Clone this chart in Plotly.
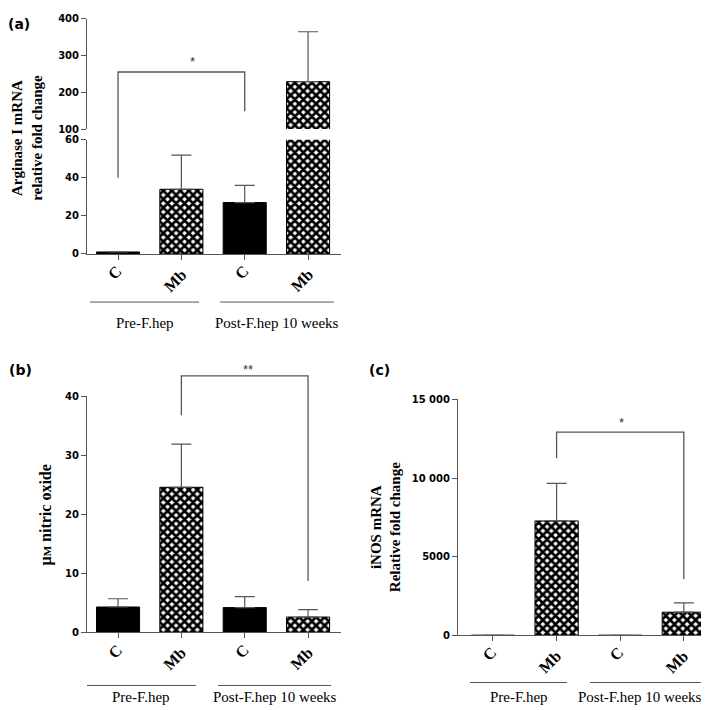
import plotly.graph_objects as go

# ---------------- data ----------------
categories = ["C", "Mb", "C", "Mb"]
positions = [0, 1, 2, 3]
groups = ["Pre-F.hep", "Post-F.hep 10 weeks"]

# (a) Arginase I mRNA relative fold change
arg_values = [1, 34, 27, 229]
arg_err = [0, 18, 9, 136]

# (b) µM nitric oxide
no_values = [4.3, 24.6, 4.2, 2.6]
no_err = [1.4, 7.3, 1.85, 1.25]

# (c) iNOS mRNA relative fold change
inos_values = [1, 7270, 1, 1470]
inos_err = [0, 2390, 0, 590]

a_low_ticks = [0, 20, 40, 60]
a_high_ticks = [100, 200, 300, 400]
b_ticks = [0, 10, 20, 30, 40]
c_ticks = [0, 5000, 10000, 15000]
c_ticktext = ["0", "5000", "10 000", "15 000"]

# ---------------- styling ----------------
W, H = 709, 710
AX = "#555555"
BAR_W = 0.68
pattern = dict(shape=["", "x", "", "x"], fgcolor="black", bgcolor="white",
               size=6, solidity=0.7, fillmode="replace")

def px_x(p):
    return p / W

def px_y(p):
    return 1 - p / H

def bars(vals, errs, xa, ya):
    return go.Bar(
        x=positions, y=vals, xaxis=xa, yaxis=ya, width=BAR_W,
        marker=dict(color="black", line=dict(color="black", width=1), pattern=pattern),
        error_y=dict(type="data", symmetric=False, array=errs, arrayminus=[0] * len(errs),
                     color=AX, thickness=1.2, width=10),
        showlegend=False, hoverinfo="skip",
    )

def bracket(xs, ys, xa, ya):
    return go.Scatter(x=xs, y=ys, xaxis=xa, yaxis=ya, mode="lines",
                      line=dict(color=AX, width=1.3), showlegend=False, hoverinfo="skip")

fig = go.Figure()
# (a) broken axis: lower and upper parts
fig.add_trace(bars(arg_values, arg_err, "x", "y"))
fig.add_trace(bars(arg_values, arg_err, "x", "y2"))
fig.add_trace(bracket([0, 0, 2, 2], [40, 95.7, 95.7, 75], "x", "y3"))
# (b)
fig.add_trace(bars(no_values, no_err, "x2", "y4"))
fig.add_trace(bracket([1, 1, 3, 3], [36.8, 43.5, 43.5, 8.7], "x2", "y5"))
# (c)
fig.add_trace(bars(inos_values, inos_err, "x3", "y6"))
fig.add_trace(bracket([1, 1, 3, 3], [11260, 12920, 12920, 3570], "x3", "y6"))

tick_font = dict(family="DejaVu Sans", size=10, color="black", weight="bold")
cat_font = dict(family="Liberation Serif", size=16, color="black", weight="bold")

def xaxis(dom, rng, anchor):
    return dict(domain=dom, range=rng, anchor=anchor, tickmode="array", tickvals=positions,
                showticklabels=False, ticks="outside", ticklen=5,
                tickcolor=AX, showline=True, linecolor=AX, linewidth=1,
                showgrid=False, zeroline=False, fixedrange=True)

def yaxis(dom, rng, anchor, tv, tt=None):
    d = dict(domain=dom, range=rng, anchor=anchor, tickmode="array", tickvals=tv,
             ticks="outside", ticklen=5, tickcolor=AX, showline=True, linecolor=AX,
             linewidth=1, showgrid=False, zeroline=False, tickfont=tick_font, fixedrange=True)
    if tt is not None:
        d["ticktext"] = tt
    return d

def hidden(dom, rng, anchor):
    return dict(domain=dom, range=rng, anchor=anchor, visible=False, fixedrange=True)

ab_xdom = [px_x(79), px_x(333)]
c_xdom = [px_x(450), px_x(707)]

fig.update_layout(
    width=W, height=H, margin=dict(l=0, r=0, t=0, b=0),
    paper_bgcolor="white", plot_bgcolor="rgba(0,0,0,0)",
    xaxis=xaxis(ab_xdom, [-0.49, 3.52], "y"),
    yaxis=yaxis([px_y(244), px_y(128)], [0, 60], "x", a_low_ticks),
    yaxis2=yaxis([px_y(117), px_y(5)], [100, 400], "x", a_high_ticks),
    yaxis3=hidden([px_y(244), px_y(5)], [0, 239 / (116 / 60)], "x"),
    xaxis2=xaxis(ab_xdom, [-0.49, 3.52], "y4"),
    yaxis4=yaxis([px_y(629), px_y(389)], [0, 40], "x2", b_ticks),
    yaxis5=hidden([px_y(629), px_y(340)], [0, 289 / 6], "x2"),
    xaxis3=xaxis(c_xdom, [-0.55, 3.49], "y6"),
    yaxis6=yaxis([px_y(632), px_y(392)], [0, 15000], "x3", c_ticks, c_ticktext),
)

serif_b = dict(family="Liberation Serif", size=15, color="black", weight="bold")
serif = dict(family="Liberation Serif", size=15, color="black")
panel_font = dict(family="DejaVu Sans", size=14, color="black", weight="bold")
star_font = dict(family="Liberation Sans", size=13, color="#333333")

ann = []
# panel labels
for txt, x, y in [("(a)", 11, 10), ("(b)", 12, 362), ("(c)", 371, 362)]:
    ann.append(dict(text=txt, x=px_x(x), y=px_y(y), xref="paper", yref="paper",
                    showarrow=False, font=panel_font, xanchor="center", yanchor="middle"))
# y axis titles
ann.append(dict(text="Arginase I mRNA<br>relative fold change", x=px_x(19), y=px_y(126),
                xref="paper", yref="paper", showarrow=False, textangle=-90, font=serif_b,
                xanchor="center", yanchor="middle"))
ann.append(dict(text="μ<span style='font-size:11px'>M</span> nitric oxide", x=px_x(38), y=px_y(510),
                xref="paper", yref="paper", showarrow=False, textangle=-90,
                font=dict(serif_b, size=16), xanchor="center", yanchor="middle"))
ann.append(dict(text="iNOS mRNA<br>Relative fold change", x=px_x(378), y=px_y(522),
                xref="paper", yref="paper", showarrow=False, textangle=-90, font=serif_b,
                xanchor="center", yanchor="middle"))
# significance stars
ann.append(dict(text="*", x=1.18, y=101, xref="x", yref="y3", showarrow=False, font=star_font))
ann.append(dict(text="**", x=2.05, y=44.6, xref="x2", yref="y5", showarrow=False, font=star_font))
ann.append(dict(text="*", x=2.02, y=13500, xref="x3", yref="y6", showarrow=False, font=star_font))

# category labels (rotated) under each panel's axis
cat_specs = [("x", 244), ("x2", 629), ("x3", 632)]
for xa, axis_px in cat_specs:
    for pos, cat in zip(positions, categories):
        dy = 19 if cat == "C" else 27
        dx = -0.05 if cat == "C" else -0.1
        ann.append(dict(text=cat, x=pos + dx, y=px_y(axis_px + dy), xref=xa, yref="paper",
                        showarrow=False, textangle=-45, font=cat_font,
                        xanchor="center", yanchor="middle"))

# group lines and labels
group_specs = [
    ("x", 293, 314, [(0.012, 0.441), (0.524, 0.972)], [0.0, 0.0]),
    ("x2", 683, 695, [(0.0, 0.429), (0.516, 0.961)], [0.0, 0.0]),
    ("x3", 680, 695, [(0.047, 0.424), (0.514, 0.945)], [0.0, -0.02]),
]
shapes = []
for xa, ly, ty, spans, shifts in group_specs:
    for g, (a, b), s in zip(groups, spans, shifts):
        shapes.append(dict(type="line", xref=xa + " domain", yref="paper", x0=a, x1=b,
                           y0=px_y(ly), y1=px_y(ly), line=dict(color=AX, width=1)))
        ann.append(dict(text=g, x=(a + b) / 2 + s, y=px_y(ty), xref=xa + " domain", yref="paper",
                        showarrow=False, font=serif, xanchor="center", yanchor="middle"))

fig.update_layout(annotations=ann, shapes=shapes)
fig.write_html("out.html")
